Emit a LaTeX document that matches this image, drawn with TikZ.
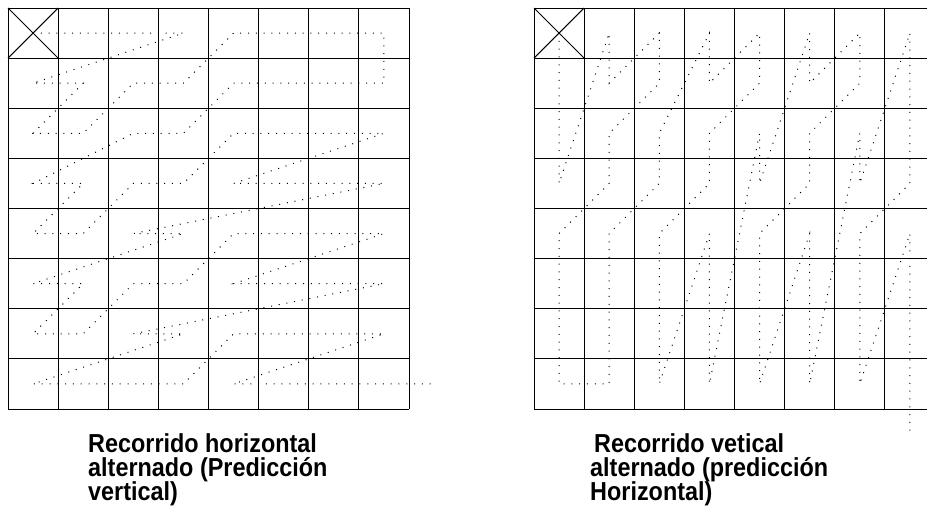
\documentclass[tikz,border=0pt]{standalone}
\usepackage{fontspec}
\newfontfamily\lblfont[FakeStretch=0.9]{Liberation Sans Bold}
\begin{document}
\begin{tikzpicture}[x=1pt,y=-1pt,
  gridline/.style={line width=0.9pt,black},
  scanpath/.style={line width=1pt,black,dash pattern=on 1pt off 6.8pt},
  lbl/.style={font=\lblfont\fontsize{26}{26}\selectfont,anchor=base west,inner sep=0pt}]
\useasboundingbox (0,0) rectangle (927,516);
\clip (0,0) rectangle (927,516);
\def\cs{50.125}
% left grid
\foreach \i in {0,...,8} {
  \draw[gridline] ({8+\cs*\i},8) -- ({8+\cs*\i},409);
  \draw[gridline] (8,{8+\cs*\i}) -- (409,{8+\cs*\i});
}
\draw[gridline] (8,8) -- (58.125,58.125) (58.125,8) -- (8,58.125);
% right grid
\foreach \i in {0,...,8} {
  \draw[gridline] ({534+\cs*\i},8) -- ({534+\cs*\i},409);
  \draw[gridline] (534,{8+\cs*\i}) -- (935,{8+\cs*\i});
}
\draw[gridline] (534,8) -- (584.125,58.125) (584.125,8) -- (534,58.125);
% alternate horizontal scan (left)
\draw[scanpath] (33.06,33.06)
  \foreach \k in {1,2,3,8,9,16,17,10,11,4,5,6,7,15,14,13,12,19,18,24,25,32,33,26,27,20,21,22,23,28,29,30,31,34,35,40,41,48,49,42,43,36,37,38,39,44,45,46,47,50,51,56,57,58,59,52,53,54,55,60,61,62,63}
  { -- ({8+\cs*(mod(\k,8)+0.5)},{8+\cs*(int(\k/8)+0.5)}) }
  -- (437,383.9);
% alternate vertical scan (right)
\draw[scanpath] (559.06,33.06)
  \foreach \k in {1,2,3,8,9,16,17,10,11,4,5,6,7,15,14,13,12,19,18,24,25,32,33,26,27,20,21,22,23,28,29,30,31,34,35,40,41,48,49,42,43,36,37,38,39,44,45,46,47,50,51,56,57,58,59,52,53,54,55,60,61,62,63}
  { -- ({534+\cs*(int(\k/8)+0.5)},{8+\cs*(mod(\k,8)+0.5)}) }
  -- (909.9,437);
% labels
\node[lbl] (la) at (88,452) {Recorrido horizontal};
\node[lbl] (lb) at (88,476) {alternado (Predicción};
\node[lbl] (lc) at (88,500) {vertical)};
\node[lbl] (ra) at (594,452) {Recorrido vetical};
\node[lbl] (rb) at (590,476) {alternado (predicción};
\node[lbl] (rc) at (590,500) {Horizontal)};
\end{tikzpicture}
\end{document}
